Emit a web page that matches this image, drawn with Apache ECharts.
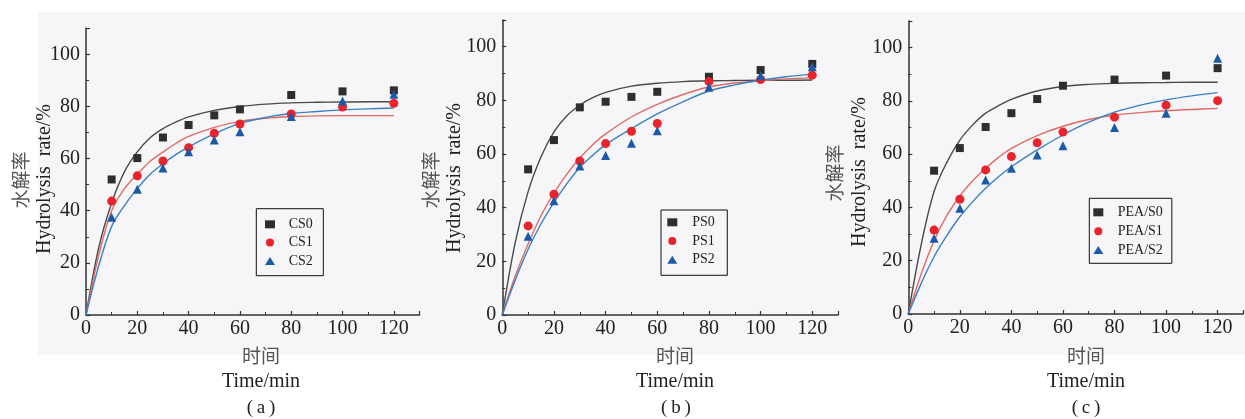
<!DOCTYPE html>
<html>
<head>
<meta charset="utf-8">
<script src="https://cdn.jsdelivr.net/npm/echarts@6/dist/echarts.min.js"></script>
<style>
html,body{margin:0;padding:0;background:#ffffff;}
#c{width:1245px;height:419px;}
</style>
</head>
<body>
<div id="c"></div>
<script>
// ---- data ----
var times = [10, 20, 30, 40, 50, 60, 80, 100, 120];
var fitTimes = [0, 5, 10, 15, 20, 25, 30, 35, 40, 50, 60, 70, 80, 90, 100, 110, 120];

var namesA = ['CS0', 'CS1', 'CS2'];
var CS0 = [52.0, 60.2, 68.1, 72.9, 76.6, 78.9, 84.4, 85.8, 86.2];
var CS1 = [43.7, 53.4, 59.1, 64.2, 69.7, 73.3, 77.1, 79.8, 81.2];
var CS2 = [37.5, 48.2, 56.4, 62.6, 67.1, 70.3, 76.2, 82.1, 84.7];
var CS0fit = [0, 26, 43, 55, 62.6, 68, 71.5, 74, 76, 78.5, 80, 80.9, 81.4, 81.6, 81.7, 81.8, 81.8];
var CS1fit = [0, 23, 40, 48.5, 54, 59, 62.5, 65.8, 68.5, 72, 74.3, 75.5, 76.1, 76.4, 76.5, 76.5, 76.5];
var CS2fit = [0, 19, 34, 42, 48.5, 54, 58, 61.5, 64.5, 69.5, 73.5, 75.8, 77.3, 78.1, 78.7, 79.1, 79.4];

var namesB = ['PS0', 'PS1', 'PS2'];
var PS0 = [54.3, 65.2, 77.4, 79.5, 81.3, 83.2, 88.8, 91.3, 93.6];
var PS1 = [33.2, 45.0, 57.4, 63.9, 68.5, 71.4, 87.0, 87.8, 89.4];
var PS2 = [29.4, 42.6, 55.5, 59.5, 64.0, 68.7, 84.9, 89.2, 92.5];
var PS0fit = [0, 27, 46, 59, 68.3, 74.3, 78.2, 81, 83, 85.3, 86.4, 87, 87.3, 87.4, 87.5, 87.5, 87.6];
var PS1fit = [0, 14.5, 26.5, 37, 45.4, 52.5, 58.5, 63.5, 67.5, 73.8, 78.5, 82.2, 85, 86.5, 87.3, 88, 88.5];
var PS2fit = [0, 13, 24.5, 34, 42, 49, 55, 59.5, 63.5, 69.5, 75, 79.5, 83.5, 85.8, 87.5, 88.8, 89.8];

var namesC = ['PEA/S0', 'PEA/S1', 'PEA/S2'];
var PEAS0 = [53.8, 62.3, 70.2, 75.4, 80.7, 85.7, 88.0, 89.5, 92.3];
var PEAS1 = [31.5, 43.1, 54.1, 59.1, 64.3, 68.3, 73.9, 78.4, 80.1];
var PEAS2 = [28.4, 39.7, 50.3, 54.7, 59.7, 63.2, 70.0, 75.4, 96.0];
var PEAS0fit = [0, 26, 46, 57, 65.3, 71, 75.4, 78.2, 80.6, 83.7, 85.4, 86.2, 86.6, 86.8, 86.9, 87, 87];
var PEAS1fit = [0, 15, 27.5, 37, 44.3, 50, 54.7, 58.8, 62.2, 67, 70.5, 73, 74.7, 75.6, 76.3, 76.8, 77.2];
var PEAS2fit = [0, 11.5, 21.5, 29.5, 36.5, 42.2, 47.2, 51.5, 55.3, 61.6, 67.2, 72, 75.8, 78.4, 80.4, 81.9, 83.1];

var xTicks = [0, 20, 40, 60, 80, 100, 120];
var yTicks = [0, 20, 40, 60, 80, 100];
var yTitleCN = '水解率';
var yTitleEN = 'Hydrolysis  rate/%';
var xTitleCN = '时间';
var xTitleEN = 'Time/min';
var panelLabels = ['(\u2009a\u2009)', '(\u2009b\u2009)', '(\u2009c\u2009)'];

// ---- styles ----
var SERIF = '"Liberation Serif", "Times New Roman", serif';
var CJK = '"Noto Sans CJK SC", sans-serif';
var markColors = ['#2e2e2e', '#e8232b', '#1c5aa8'];
var lineColors = ['#4a4a4a', '#e06a64', '#3b80c2'];
var symbols = ['rect', 'circle', 'triangle'];
var symbolSizes = [8, 9, 9];

function pairs(xs, ys) { return xs.map(function (x, i) { return [x, ys[i]]; }); }

var grids = [
  { left: 86, top: 28.3, width: 333.5, height: 286.7 },
  { left: 502.3, top: 19.9, width: 335.8, height: 295.1 },
  { left: 908.3, top: 21, width: 335.1, height: 293 }
];

function xAx(i) {
  return {
    gridIndex: i, type: 'value', min: 0, max: 130, interval: 20,
    axisLine: { show: true, onZero: false, lineStyle: { color: '#333', width: 1.5 } },
    axisTick: { show: true, inside: true, length: 4, lineStyle: { color: '#333', width: 1.2 } },
    minorTick: { show: true, splitNumber: 2, length: 3, lineStyle: { color: '#333', width: 1 } },
    axisLabel: {
      showMaxLabel: false, fontFamily: SERIF, fontSize: 20, color: '#222', margin: 4,
      formatter: function (v) { return xTicks.indexOf(v) >= 0 ? String(v) : ''; }
    },
    splitLine: { show: false }
  };
}
function yAx(i) {
  return {
    gridIndex: i, type: 'value', min: 0, max: 110, interval: 20,
    axisLine: { show: true, onZero: false, lineStyle: { color: '#333', width: 1.5 } },
    axisTick: { show: true, inside: true, length: 4, lineStyle: { color: '#333', width: 1.2 } },
    minorTick: { show: true, splitNumber: 2, length: 3, lineStyle: { color: '#333', width: 1 } },
    axisLabel: {
      showMaxLabel: false, fontFamily: SERIF, fontSize: 20, color: '#222', margin: 6,
      formatter: function (v) { return yTicks.indexOf(v) >= 0 ? String(v) : ''; }
    },
    splitLine: { show: false }
  };
}

var panels = [
  { names: namesA, pts: [CS0, CS1, CS2], fits: [CS0fit, CS1fit, CS2fit] },
  { names: namesB, pts: [PS0, PS1, PS2], fits: [PS0fit, PS1fit, PS2fit] },
  { names: namesC, pts: [PEAS0, PEAS1, PEAS2], fits: [PEAS0fit, PEAS1fit, PEAS2fit] }
];

var series = [];
panels.forEach(function (p, gi) {
  p.fits.forEach(function (f, k) {
    series.push({
      name: p.names[k] + ' fit', type: 'line', xAxisIndex: gi, yAxisIndex: gi,
      data: pairs(fitTimes, f), smooth: 0.35, showSymbol: false, symbol: 'none',
      lineStyle: { color: lineColors[k], width: 1.4 }, z: 2, silent: true
    });
  });
  p.pts.forEach(function (d, k) {
    series.push({
      name: p.names[k], type: 'scatter', xAxisIndex: gi, yAxisIndex: gi,
      data: pairs(times, d), symbol: symbols[k], symbolSize: symbolSizes[k],
      itemStyle: { color: markColors[k], opacity: 1 }, z: 3
    });
  });
});

var legendBase = {
  orient: 'vertical', itemWidth: 10, itemHeight: 8, selectedMode: false,
  borderColor: '#111', borderWidth: 1, backgroundColor: 'rgba(0,0,0,0)',
  icon: null
};
function legendFor(names, left, top, gap, pad, tpad) {
  return Object.assign({}, legendBase, {
    data: names, left: left, top: top, itemGap: gap, padding: pad,
    textStyle: { fontFamily: SERIF, fontSize: 14, color: '#222', lineHeight: 14, padding: [0, 0, 0, tpad] }
  });
}
var legends = [
  legendFor(namesA, 256.3, 208.7, 4.3, [8.6, 10.5, 7.8, 8.7], 8.7),
  legendFor(namesB, 661, 210, 4.7, [5.3, 12.4, 8.6, 6.3], 10),
  legendFor(namesC, 1089.3, 198.3, 4.9, [7, 9, 6.2, 4], 9.4)
];
legends.forEach(function (l) { delete l.icon; });

function txt(x, y, text, font, fill, rot) {
  return {
    type: 'text', x: x, y: y, rotation: rot || 0, silent: true,
    style: { text: text, font: font, fill: fill, align: 'center', verticalAlign: 'middle',
             textAlign: 'center', textVerticalAlign: 'middle' }
  };
}
var R = Math.PI / 2;
var graphics = [
  { type: 'rect', shape: { x: 38, y: 12, width: 1207, height: 343 }, style: { fill: '#f6f6f8' }, z: -10, silent: true },
  // panel a titles
  txt(20.5, 180, yTitleCN, '19px ' + CJK, '#555', R),
  txt(44.7, 179, yTitleEN, '20px ' + SERIF, '#222', R),
  txt(261, 356, xTitleCN, '19px ' + CJK, '#555'),
  txt(261, 381.7, xTitleEN, '20px ' + SERIF, '#222'),
  txt(261, 408, panelLabels[0], '19px ' + SERIF, '#222'),
  // panel b titles
  txt(430.8, 180, yTitleCN, '19px ' + CJK, '#555', R),
  txt(454.5, 178, yTitleEN, '20px ' + SERIF, '#222', R),
  txt(675, 356, xTitleCN, '19px ' + CJK, '#555'),
  txt(675, 381.7, xTitleEN, '20px ' + SERIF, '#222'),
  txt(676, 408, panelLabels[1], '19px ' + SERIF, '#222'),
  // panel c titles
  txt(835, 173, yTitleCN, '19px ' + CJK, '#555', R),
  txt(859.3, 172, yTitleEN, '20px ' + SERIF, '#222', R),
  txt(1086, 356, xTitleCN, '19px ' + CJK, '#555'),
  txt(1086, 381.7, xTitleEN, '20px ' + SERIF, '#222'),
  txt(1086, 408, panelLabels[2], '19px ' + SERIF, '#222')
];

var chart = echarts.init(document.getElementById('c'), null, { renderer: 'canvas' });
chart.setOption({
  animation: false,
  backgroundColor: '#ffffff',
  grid: grids,
  xAxis: [xAx(0), xAx(1), xAx(2)],
  yAxis: [yAx(0), yAx(1), yAx(2)],
  legend: legends,
  series: series,
  graphic: graphics
});
</script>
</body>
</html>
